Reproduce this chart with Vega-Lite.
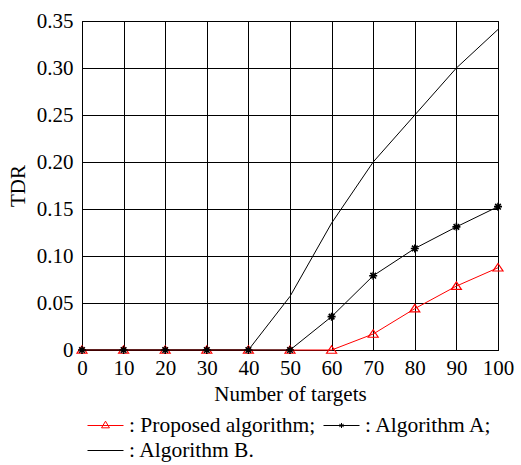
{
  "$schema": "https://vega.github.io/schema/vega-lite/v6.json",
  "width": 416,
  "height": 329,
  "autosize": {"type": "none"},
  "padding": {"left": 82, "top": 21, "right": 23, "bottom": 115},
  "config": {
    "font": "Liberation Serif",
    "view": {"stroke": "#000", "strokeWidth": 1},
    "axis": {
      "labelFont": "Liberation Serif",
      "titleFont": "Liberation Serif",
      "labelFontSize": 21,
      "titleFontSize": 21,
      "labelColor": "#000",
      "titleColor": "#000",
      "titleFontWeight": "normal",
      "gridColor": "#000",
      "gridOpacity": 1,
      "gridWidth": 1,
      "domainColor": "#000",
      "ticks": false,
      "tickSize": 0
    },
    "legend": {
      "labelFont": "Liberation Serif",
      "labelFontSize": 21.5,
      "labelColor": "#000",
      "labelLimit": 0
    }
  },
  "datasets": {
    "main": [
      {"n": 0, "series": "Proposed algorithm", "tdr": 0},
      {"n": 10, "series": "Proposed algorithm", "tdr": 0},
      {"n": 20, "series": "Proposed algorithm", "tdr": 0},
      {"n": 30, "series": "Proposed algorithm", "tdr": 0},
      {"n": 40, "series": "Proposed algorithm", "tdr": 0},
      {"n": 50, "series": "Proposed algorithm", "tdr": 0},
      {"n": 60, "series": "Proposed algorithm", "tdr": 0},
      {"n": 70, "series": "Proposed algorithm", "tdr": 0.017},
      {"n": 80, "series": "Proposed algorithm", "tdr": 0.044},
      {"n": 90, "series": "Proposed algorithm", "tdr": 0.068},
      {"n": 100, "series": "Proposed algorithm", "tdr": 0.0875},
      {"n": 0, "series": "Algorithm A", "tdr": 0},
      {"n": 10, "series": "Algorithm A", "tdr": 0},
      {"n": 20, "series": "Algorithm A", "tdr": 0},
      {"n": 30, "series": "Algorithm A", "tdr": 0},
      {"n": 40, "series": "Algorithm A", "tdr": 0},
      {"n": 50, "series": "Algorithm A", "tdr": 0},
      {"n": 60, "series": "Algorithm A", "tdr": 0.0355},
      {"n": 70, "series": "Algorithm A", "tdr": 0.079},
      {"n": 80, "series": "Algorithm A", "tdr": 0.108},
      {"n": 90, "series": "Algorithm A", "tdr": 0.131},
      {"n": 100, "series": "Algorithm A", "tdr": 0.1525},
      {"n": 0, "series": "Algorithm B", "tdr": 0},
      {"n": 10, "series": "Algorithm B", "tdr": 0},
      {"n": 20, "series": "Algorithm B", "tdr": 0},
      {"n": 30, "series": "Algorithm B", "tdr": 0},
      {"n": 40, "series": "Algorithm B", "tdr": 0},
      {"n": 50, "series": "Algorithm B", "tdr": 0.057},
      {"n": 60, "series": "Algorithm B", "tdr": 0.135},
      {"n": 70, "series": "Algorithm B", "tdr": 0.2},
      {"n": 80, "series": "Algorithm B", "tdr": 0.25},
      {"n": 90, "series": "Algorithm B", "tdr": 0.3},
      {"n": 100, "series": "Algorithm B", "tdr": 0.341}
    ],
    "minor": [
      {"n": 2}, {"n": 4}, {"n": 6}, {"n": 8},
      {"n": 12}, {"n": 14}, {"n": 16}, {"n": 18},
      {"n": 22}, {"n": 24}, {"n": 26}, {"n": 28},
      {"n": 32}, {"n": 34}, {"n": 36}, {"n": 38},
      {"n": 42}, {"n": 44}, {"n": 46}, {"n": 48},
      {"n": 52}, {"n": 54}, {"n": 56}, {"n": 58},
      {"n": 62}, {"n": 64}, {"n": 66}, {"n": 68},
      {"n": 72}, {"n": 74}, {"n": 76}, {"n": 78},
      {"n": 82}, {"n": 84}, {"n": 86}, {"n": 88},
      {"n": 92}, {"n": 94}, {"n": 96}, {"n": 98}
    ]
  },
  "data": {"name": "main"},
  "encoding": {
    "x": {
      "field": "n",
      "type": "quantitative",
      "scale": {"domain": [0, 100], "nice": false, "zero": false},
      "axis": {
        "title": "Number of targets",
        "values": [0, 10, 20, 30, 40, 50, 60, 70, 80, 90, 100],
        "labelPadding": 7,
        "titlePadding": 5,
        "labelFlush": false,
        "labelOverlap": false
      }
    },
    "y": {
      "field": "tdr",
      "type": "quantitative",
      "scale": {"domain": [0, 0.35], "nice": false},
      "axis": {
        "title": "TDR",
        "values": [0, 0.05, 0.1, 0.15, 0.2, 0.25, 0.3, 0.35],
        "labelExpr": "datum.value == 0 ? '0' : format(datum.value, '.2f')",
        "labelPadding": 9,
        "titlePadding": 8,
        "labelFlush": false,
        "labelOverlap": false
      }
    }
  },
  "layer": [
    {
      "data": {"name": "minor"},
      "mark": {"type": "rule", "color": "#000", "strokeWidth": 1},
      "encoding": {
        "x": {"field": "n", "type": "quantitative"},
        "y": {"datum": 0},
        "y2": {"datum": 0.0032}
      }
    },
    {
      "transform": [{"filter": "datum.series == 'Algorithm B'"}],
      "mark": {"type": "line", "color": "#000", "strokeWidth": 1}
    },
    {
      "transform": [{"filter": "datum.series == 'Proposed algorithm'"}],
      "mark": {"type": "line", "color": "#ff0000", "strokeWidth": 1}
    },
    {
      "transform": [{"filter": "datum.series == 'Proposed algorithm'"}],
      "mark": {
        "type": "point",
        "shape": "M0,-0.85L1,0.65L-1,0.65Z",
        "size": 100,
        "filled": false,
        "stroke": "#ff0000",
        "fill": "#ffffff",
        "fillOpacity": 0,
        "strokeWidth": 1.2,
        "opacity": 1
      }
    },
    {
      "transform": [{"filter": "datum.series == 'Algorithm A'"}],
      "mark": {"type": "line", "color": "#000", "strokeWidth": 1}
    },
    {
      "transform": [{"filter": "datum.series == 'Algorithm A'"}],
      "mark": {
        "type": "point",
        "shape": "M0,-1V1M-1,0H1M-0.7,-0.7L0.7,0.7M-0.7,0.7L0.7,-0.7",
        "size": 64,
        "filled": false,
        "stroke": "#000",
        "strokeWidth": 1.6,
        "opacity": 1
      }
    },
    {
      "transform": [{"filter": "false"}],
      "mark": {"type": "point", "filled": false, "opacity": 1, "size": 1296, "strokeWidth": 1},
      "encoding": {
        "x": {"field": "n", "type": "quantitative"},
        "y": {"field": "tdr", "type": "quantitative"},
        "color": {
          "field": "series",
          "type": "nominal",
          "scale": {
            "domain": ["Proposed algorithm", "Algorithm A", "Algorithm B"],
            "range": ["#ff0000", "#000000", "#000000"]
          },
          "legend": {
            "title": null,
            "orient": "none",
            "legendX": 5,
            "legendY": 392,
            "direction": "horizontal",
            "columns": 2,
            "columnPadding": 7,
            "rowPadding": 0,
            "padding": 0,
            "labelOffset": 5,
            "clipHeight": 25,
            "labelLimit": 0,
            "symbolSize": 1296,
            "symbolStrokeWidth": 1,
            "labelExpr": "datum.label == 'Algorithm B' ? ': Algorithm B.' : ': ' + datum.label + ';'"
          }
        },
        "shape": {
          "field": "series",
          "type": "nominal",
          "scale": {
            "domain": ["Proposed algorithm", "Algorithm A", "Algorithm B"],
            "range": [
              "M-1,0H1M0,-0.24L0.22,0.13L-0.22,0.13Z",
              "M-1,0H1M0,-0.14V0.14M-0.12,-0.07L0.12,0.07M-0.12,0.07L0.12,-0.07",
              "M-1,0H1"
            ]
          },
          "legend": {
            "title": null,
            "orient": "none",
            "legendX": 5,
            "legendY": 392,
            "direction": "horizontal",
            "columns": 2,
            "columnPadding": 7,
            "rowPadding": 0,
            "padding": 0,
            "labelOffset": 5,
            "clipHeight": 25,
            "labelLimit": 0,
            "symbolSize": 1296,
            "symbolStrokeWidth": 1,
            "labelExpr": "datum.label == 'Algorithm B' ? ': Algorithm B.' : ': ' + datum.label + ';'"
          }
        }
      }
    }
  ]
}
